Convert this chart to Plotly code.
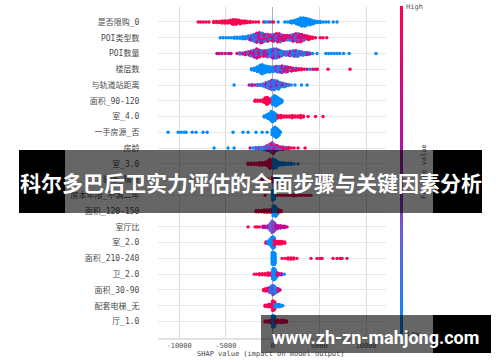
import numpy as np
import plotly.graph_objects as go

W, H = 500, 362

feature_names = ["是否限购_0", "POI类型数", "POI数量", "楼层数", "与轨道站距离", "面积_90-120", "室_4.0",
                 "一手房源_否", "房龄", "室_3.0", "装修_精装", "房本年限_不满二年", "面积_120-150", "室厅比",
                 "室_2.0", "面积_210-240", "卫_2.0", "面积_30-90", "配套电梯_无", "厅_1.0"]

# Colour groups for feature value: stacked dots cycle through these
MIX_B = [0.05, 0.45, 0.1, 0.6, 0.0, 0.35]
MIX_P = [0.55, 0.1, 0.8, 0.4, 0.65, 0.2, 0.95]
MIX_R = [0.85, 0.5, 1.0, 0.7, 0.3, 0.9]
B, R, P = 0.0, 1.0, 0.55

shap_0 = [-7950, -7700, -7400, -7100, -6800, -6300, -6000, -5700, -5400, -5100, -4800, -4500, -4200, -3900, -3600, -3300, -3000, -2700, -2400, -2100, -1800, -1500, -950, -300, -800, -550, -50, 100, 600, 1300, 1600, 1900, 2100, 2400, 2700, 3000, 3300, 3600, 3900, 4200, 4500, 4800, 5100, 5400, 5700, 6000, 6500, 6900]
count_0 = [1, 1, 1, 1, 1, 2, 2, 2, 3, 3, 3, 4, 5, 5, 4, 3, 3, 2, 2, 1, 1, 1, 1, 1, 1, 1, 1, 1, 1, 1, 1, 2, 3, 4, 6, 8, 8, 7, 6, 4, 3, 2, 2, 1, 1, 1, 1, 1]
feat_0 = [R] * 24 + [B, B, B, R] + [B] * 20

shap_1 = [-5600, -5300, -5000, -4700, -4400, -4100, -3800, -3500, -3200, -2900, -2600, -2300, -2000, -1700, -1400, -1100, -800, -500, -200, 100, 400, 700, 1000, 1300, 1600, 1900, 2200, 2500, 2800, 3100, 3400, 3700, 4000, 4300, 4600, 5100, 5400, 5800]
count_1 = [1, 1, 1, 1, 1, 2, 2, 2, 3, 3, 4, 5, 7, 9, 10, 9, 7, 7, 6, 7, 8, 8, 6, 5, 5, 5, 7, 8, 8, 7, 5, 4, 3, 2, 1, 1, 1, 1]
feat_1 = [B] * 10 + [MIX_B] * 3 + [MIX_P] * 8 + [MIX_R] * 4 + [MIX_P] * 3 + [MIX_R] * 3 + [R] * 7

shap_2 = [-5950, -5700, -5400, -5050, -4700, -4450, -3800, -3500, -3200, -2900, -2600, -2300, -2000, -1700, -1400, -1100, -800, -500, -200, 100, 400, 700, 1000, 1300, 1600, 1900, 2200, 2500, 2800, 3100, 3400, 3700, 4000, 4300, 4760, 5700, 6000, 6300, 6600, 6900, 7200, 7600, 8200, 11070]
count_2 = [1, 1, 1, 1, 1, 1, 1, 2, 2, 3, 4, 5, 7, 9, 7, 6, 6, 7, 8, 9, 9, 7, 5, 4, 4, 5, 6, 6, 5, 4, 3, 3, 2, 1, 1, 1, 1, 1, 1, 1, 1, 1, 1, 1]
feat_2 = [0.7] * 6 + [MIX_P] * 6 + [MIX_P] * 5 + [MIX_B] * 6 + [MIX_B] * 10 + [B] * 11

shap_3 = [-2250, -1950, -1650, -1350, -1100, -800, -500, -200, 100, 400, 700, 1000, 1300, 1600, 1900, 2200, 2500, 2800, 3100, 3400, 3700, 4000, 4300, 4600, 4800, 5940, 8290]
count_3 = [2, 3, 5, 8, 9, 7, 6, 5, 5, 6, 6, 7, 6, 5, 4, 3, 3, 2, 2, 1, 1, 1, 1, 1, 1, 1, 1]
feat_3 = [B] * 8 + [MIX_B] * 3 + [MIX_P] * 2 + [MIX_R] * 5 + [R, R, 0.6, B, R, 0.6, R, R, R]

shap_4 = [-4120, -2500, -2200, -1900, -1600, -1300, -1000, -700, -400, -100, 200, 500, 800, 1100, 1400, 1700, 2000, 2400, 3100, 3700]
count_4 = [1, 1, 2, 1, 2, 2, 3, 5, 7, 9, 9, 8, 5, 4, 3, 2, 1, 1, 1, 1]
feat_4 = [B, 0.7] + [MIX_B] * 13 + [0.3, B, B, B, B]

shap_5 = [-1870, -1600, -1300, -1000, -800, -600, -400, -200, 0, 200, 400, 600, 800, 1000]
count_5 = [2, 2, 2, 3, 6, 7, 5, 3, 7, 10, 8, 6, 4, 2]
feat_5 = [R] * 8 + [B] * 6

shap_6 = [-900, -650, -400, -150, 100, 350, 600, 900, 1200, 1500, 1800, 2100, 2400, 2700, 3000, 3300, 3800, 4600, 5400]
count_6 = [2, 4, 6, 10, 8, 5, 3, 3, 2, 2, 2, 3, 2, 2, 3, 2, 1, 1, 1]
feat_6 = [B] * 6 + [R] * 13

shap_7 = [-11180, -10100, -9790, -9470, -9250, -8600, -8190, -7440, -7000, -4230, -3160, -2620, -1770, -1120, -590, -50, 100, 250, 400, 550, 700]
count_7 = [1, 1, 1, 1, 1, 1, 1, 1, 1, 1, 1, 1, 1, 1, 1, 5, 8, 10, 8, 6, 3]
feat_7 = [B] * 21

shap_8 = [-6260, -4760, -4120, -2400, -2100, -1800, -1500, -1200, -900, -600, -300, -50, 200, 500, 800, 1100, 1400, 1700, 2000, 2300, 2730, 3480]
count_8 = [1, 1, 1, 1, 1, 2, 2, 2, 3, 5, 8, 10, 7, 5, 3, 3, 2, 2, 1, 1, 1, 1]
feat_8 = [B, B, B] + [MIX_B] * 7 + [MIX_P] * 4 + [MIX_R] * 4 + [R] * 4

shap_9 = [-2620, -2300, -2000, -1700, -1400, -1100, -800, -500, -270, 100, 270, 500, 800, 1100, 1400, 1700, 2000, 2300, 2730]
count_9 = [2, 2, 2, 2, 3, 3, 4, 6, 9, 9, 8, 5, 3, 3, 2, 2, 2, 1, 1]
feat_9 = [R] * 9 + [B] * 10

shap_10 = [-1100, -500, 0, 200, 400, 800, 1100]
count_10 = [1, 2, 5, 6, 4, 2, 1]
feat_10 = [R, R, R, MIX_B, B, B, B]

shap_11 = [-800, 300, 500, 800, 1100, 1400, 1700, 2000, 2300, 2600, 2900, 3200, 3500, 3800, 4100, 0, 50]
count_11 = [1, 1, 1, 1, 1, 1, 1, 1, 2, 1, 1, 1, 1, 1, 1, 9, 9]
feat_11 = [R] * 15 + [B, B]

shap_12 = [-1750, -1500, -1200, -900, -600, -300, -150, 50, 200, 400, 650, 900]
count_12 = [2, 2, 2, 3, 3, 3, 4, 9, 10, 6, 3, 2]
feat_12 = [R] * 7 + [B] * 3 + [R, R]

shap_13 = [-2620, -1870, -1650, -1400, -1020, -800, -500, -250, -50, 100, 350, 600, 850, 1100, 1300, 1550]
count_13 = [1, 1, 1, 1, 2, 2, 3, 7, 11, 9, 4, 3, 3, 2, 2, 1]
feat_13 = [R, R, R, R, 0.6, 0.6, 0.5, 0.3, 0.35, 0.4, 0.6, 0.6, 0.6, 0.65, 0.65, 0.65]

shap_14 = [-700, -500, -300, -100, 50, 200, 400, 600, 800, 1000, 1300]
count_14 = [2, 3, 6, 10, 11, 5, 3, 3, 3, 3, 2]
feat_14 = [R, B, B, B, B, R, R, R, R, R, R]

shap_15 = [-50, 50, 150, 1020, 1340, 1650, 1950, 2250, 2600, 4120, 4760, 5080, 5300, 6470, 6900, 7220, 7440, 7970]
count_15 = [11, 12, 11, 1, 1, 2, 2, 2, 1, 1, 1, 1, 1, 1, 1, 1, 1, 1]
feat_15 = [B, B, B] + [R] * 15

shap_16 = [-1950, -1700, -1400, -1100, -800, -500, -200, 0, 150, 300, 500, 700, 950, 1250]
count_16 = [1, 1, 2, 2, 2, 3, 3, 9, 11, 6, 3, 2, 2, 1]
feat_16 = [R] * 7 + [B, B, B, 0.8, 0.8, 0.6, B]

shap_17 = [-950, -750, -500, -300, -100, 50, 200, 400, 600, 800]
count_17 = [2, 3, 4, 5, 8, 9, 6, 4, 3, 1]
feat_17 = [R, R, 0.8, MIX_B, B, MIX_B, B, B, R, 0.6]

shap_18 = [-800, -600, -400, -200, 0, 100, 250, 450, 700, 900, 1100]
count_18 = [2, 2, 3, 3, 9, 9, 3, 3, 3, 2, 1]
feat_18 = [R, R, R, R, R, R, B, B, B, B, B]

shap_19 = [-800, -500, -200, -100, 0, 100, 300, 600, 900, 1200, 1500]
count_19 = [2, 2, 3, 3, 11, 11, 3, 3, 3, 3, 2]
feat_19 = [R, R, R, R, B, B, R, R, R, R, R]

all_rows = [
    (shap_0, count_0, feat_0), (shap_1, count_1, feat_1), (shap_2, count_2, feat_2), (shap_3, count_3, feat_3),
    (shap_4, count_4, feat_4), (shap_5, count_5, feat_5), (shap_6, count_6, feat_6), (shap_7, count_7, feat_7),
    (shap_8, count_8, feat_8), (shap_9, count_9, feat_9), (shap_10, count_10, feat_10), (shap_11, count_11, feat_11),
    (shap_12, count_12, feat_12), (shap_13, count_13, feat_13), (shap_14, count_14, feat_14), (shap_15, count_15, feat_15),
    (shap_16, count_16, feat_16), (shap_17, count_17, feat_17), (shap_18, count_18, feat_18), (shap_19, count_19, feat_19),
]

x_ticks = [-10000, -5000, 0, 5000, 10000]
x_tick_text = ["-10000", "-5000", "0", "5000", "10000"]
colorscale = [[0, "#008bfb"], [0.3, "#6a5fd8"], [0.58, "#b40fa0"], [1, "#ff0051"]]

STACK = 0.072   # vertical spacing of stacked dots, in row units
STAGGER = 140   # sideways shift of every other stacked dot, in SHAP units

px, py, pc = [], [], []
for r, (xs, ns, fs) in enumerate(all_rows):
    for i, (x, n, f) in enumerate(zip(xs, ns, fs)):
        seq = f if isinstance(f, list) else [f]
        for j in range(n):
            px.append(x + (j % 2) * STAGGER if n > 2 else x)
            py.append(r + (j - (n - 1) / 2) * STACK)
            pc.append(seq[(i + j) % len(seq)])

TXT = "#4a4a4a"
MONO = "DejaVu Sans Mono, Noto Sans CJK SC, monospace"

fig = go.Figure()
fig.add_trace(go.Scatter(x=px, y=py, mode="markers", hoverinfo="skip",
                         marker=dict(size=3.4, color=pc, cmin=0, cmax=1, colorscale=colorscale, line=dict(width=0))))
fig.add_trace(go.Heatmap(z=np.linspace(0, 1, 200).reshape(-1, 1).tolist(), colorscale=colorscale, zmin=0, zmax=1,
                         showscale=False, xaxis="x2", yaxis="y2", hoverinfo="skip"))


def rect(x0, y0, x1, y1, color):
    return dict(type="rect", xref="paper", yref="paper", layer="above", line=dict(width=0), fillcolor=color,
                x0=x0 / W, x1=x1 / W, y0=1 - y1 / H, y1=1 - y0 / H)


GREY = "rgba(0,0,0,0.6)"
shapes = [rect(65, 150, 433, 213, GREY), rect(19, 150, 65, 213, "#000"), rect(433, 150, 482, 213, "#000"),
          rect(261, 315, 433, 353, GREY), rect(433, 315, 491, 353, "#000")]


def note(text, x, y, color, size, family=MONO, bold=False, angle=0):
    t = f"<b>{text}</b>" if bold else text
    return dict(text=t, x=x / W, y=1 - y / H, xref="paper", yref="paper", showarrow=False, textangle=angle,
                xanchor="center", yanchor="middle", font=dict(color=color, size=size, family=family))


annotations = [
    note("High", 414.5, 7, "#555", 7),
    note("Low", 413, 334, "#222", 7),
    note("Feature value", 424, 172, "#222", 7, angle=-90),
    note("SHAP value (impact on model output)", 271, 353.5, "#444", 7),
    note("科尔多巴后卫实力评估的全面步骤与关键因素分析", 250.5, 182, "#fff", 21, "Noto Sans CJK SC", True),
    note("www.zh-zn-mahjong.com", 375.5, 337, "#fff", 18, "Roboto", True),
]

fig.update_layout(
    width=W, height=H, autosize=False, margin=dict(l=0, r=0, t=0, b=0), paper_bgcolor="white", plot_bgcolor="white",
    showlegend=False, shapes=shapes, annotations=annotations,
    xaxis=dict(domain=[158 / W, 386 / W], range=[-12260, 12140], tickmode="array", tickvals=x_ticks,
               ticktext=x_tick_text, tickfont=dict(size=7, color="#555", family=MONO), showgrid=True,
               gridcolor="#dcdcdc", gridwidth=1.2, zeroline=True, zerolinecolor="#b0b0b0", zerolinewidth=1.2,
               showline=True, linecolor="#e2e2e2", linewidth=2, ticks="", anchor="y"),
    yaxis=dict(domain=[1 - 338 / H, 1 - 7 / H], range=[20.05, -0.95], tickmode="array",
               tickvals=list(range(len(feature_names))), ticktext=feature_names,
               tickfont=dict(size=8, color=TXT, family=MONO), showgrid=True, gridcolor="#e8e8e8", gridwidth=1.4,
               zeroline=False, showline=False, ticks="outside", ticklen=16, tickcolor="white", tickwidth=1,
               anchor="x"),
    xaxis2=dict(domain=[400 / W, 403 / W], visible=False, anchor="y2"),
    yaxis2=dict(domain=[1 - 334 / H, 1 - 6 / H], visible=False, anchor="x2"),
)

fig.write_html("out.html", config=dict(displayModeBar=False),
               post_script="document.body.style.margin='0';document.documentElement.style.overflow='hidden';")
